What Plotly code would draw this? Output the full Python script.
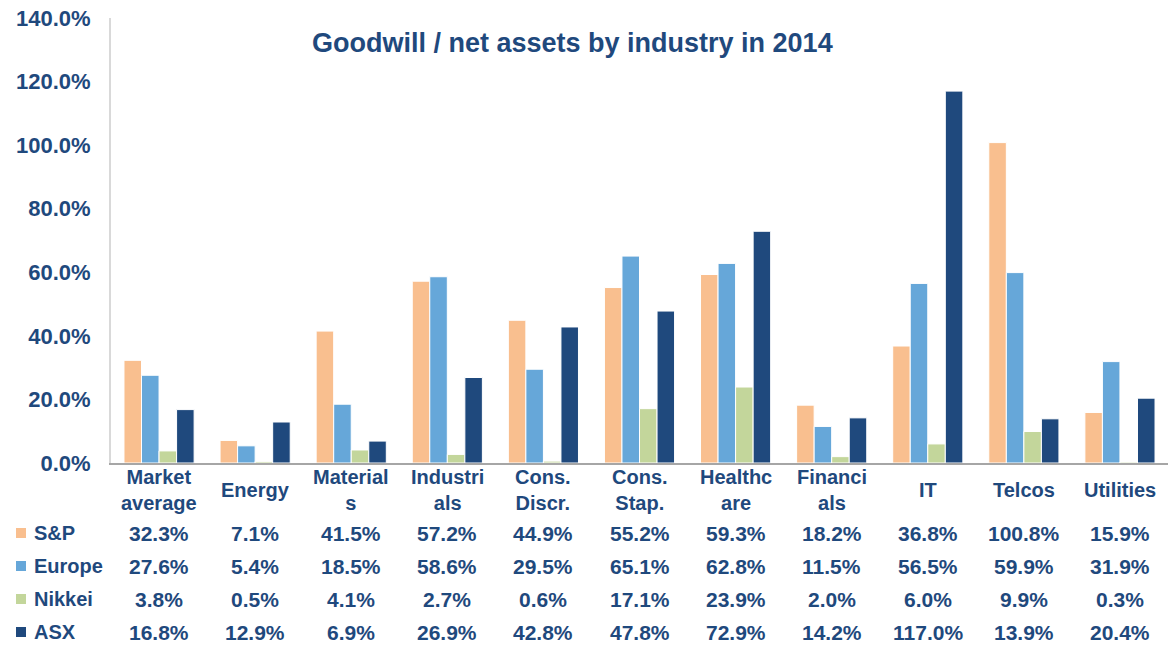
import plotly.graph_objects as go

# Industry categories (axis labels wrap the way the source table does)
categories = ["Market average", "Energy", "Materials", "Industrials", "Cons. Discr.",
              "Cons. Stap.", "Healthcare", "Financials", "IT", "Telcos", "Utilities"]
category_labels = ["Market<br>average", "Energy", "Material<br>s", "Industri<br>als",
                   "Cons.<br>Discr.", "Cons.<br>Stap.", "Healthc<br>are", "Financi<br>als",
                   "IT", "Telcos", "Utilities"]

# Goodwill / net assets, in percent
sp = [32.3, 7.1, 41.5, 57.2, 44.9, 55.2, 59.3, 18.2, 36.8, 100.8, 15.9]
europe = [27.6, 5.4, 18.5, 58.6, 29.5, 65.1, 62.8, 11.5, 56.5, 59.9, 31.9]
nikkei = [3.8, 0.5, 4.1, 2.7, 0.6, 17.1, 23.9, 2.0, 6.0, 9.9, 0.3]
asx = [16.8, 12.9, 6.9, 26.9, 42.8, 47.8, 72.9, 14.2, 117.0, 13.9, 20.4]

series_names = ["S&P", "Europe", "Nikkei", "ASX"]
series_values = [sp, europe, nikkei, asx]
series_colors = ["#F9BF8F", "#66A7D9", "#C3D69B", "#1F497D"]

y_ticks = [0, 20, 40, 60, 80, 100, 120, 140]

TEXT = "#1F497D"
FONT = "Liberation Sans, Arial, sans-serif"

fig = go.Figure()
for name, vals, col in zip(series_names, series_values, series_colors):
    fig.add_trace(go.Bar(
        x=categories, y=[v / 100 for v in vals], name=name,
        marker=dict(color=col, line=dict(color="white", width=1)),
        showlegend=False, hoverinfo="skip",
    ))

annotations = []
# Category labels under the axis
for cat, lab in zip(categories, category_labels):
    annotations.append(dict(
        x=cat, xref="x", y=0, yref="paper", yshift=-27, yanchor="middle",
        text=f"<b>{lab}</b>", showarrow=False,
        font=dict(family=FONT, size=20, color=TEXT),
    ))

# Data table rows with legend keys
row_offsets = [70, 103, 136, 169]
for name, vals, col, off in zip(series_names, series_values, series_colors, row_offsets):
    for cat, v in zip(categories, vals):
        annotations.append(dict(
            x=cat, xref="x", y=0, yref="paper", yshift=-off, yanchor="middle",
            text=f"<b>{v:.1f}%</b>", showarrow=False,
            font=dict(family=FONT, size=21, color=TEXT),
        ))
    annotations.append(dict(
        x=0, xref="paper", xshift=-79, xanchor="left",
        y=0, yref="paper", yshift=-off, yanchor="middle",
        text=f"<b>{name}</b>", showarrow=False,
        font=dict(family=FONT, size=20, color=TEXT),
    ))

shapes = []
for col, off in zip(series_colors, row_offsets):
    shapes.append(dict(
        type="rect", xref="paper", yref="paper",
        xsizemode="pixel", ysizemode="pixel", xanchor=0, yanchor=0,
        x0=-95, x1=-85, y0=-off - 5, y1=-off + 5,
        fillcolor=col, line=dict(width=0),
    ))

# Chart title
annotations.append(dict(
    x=(572 - 111) / 1057, xref="paper", xanchor="center",
    y=(463 - 43) / 445, yref="paper", yanchor="middle", showarrow=False,
    text="<b>Goodwill / net assets by industry in 2014</b>",
    font=dict(family=FONT, size=27, color=TEXT),
))

fig.update_layout(
    width=1173, height=647,
    margin=dict(l=111, r=5, t=18, b=184),
    paper_bgcolor="white", plot_bgcolor="white",
    barmode="group", bargap=0.27, bargroupgap=0,
    annotations=annotations, shapes=shapes,
    font=dict(family=FONT, color=TEXT),
    xaxis=dict(showticklabels=False, showgrid=False, zeroline=False,
               showline=True, linecolor="#A6A6A6", linewidth=2, ticks=""),
    yaxis=dict(range=[0, 1.4], tickvals=[t / 100 for t in y_ticks],
               ticktext=[f"<b>{t:.1f}%</b>" for t in y_ticks],
               showgrid=False, zeroline=False, showline=True,
               linecolor="#D9D9D9", linewidth=2, ticks="",
               ticklabelstandoff=14,
               tickfont=dict(family=FONT, size=22, color=TEXT)),
)

fig.write_html("out.html")
